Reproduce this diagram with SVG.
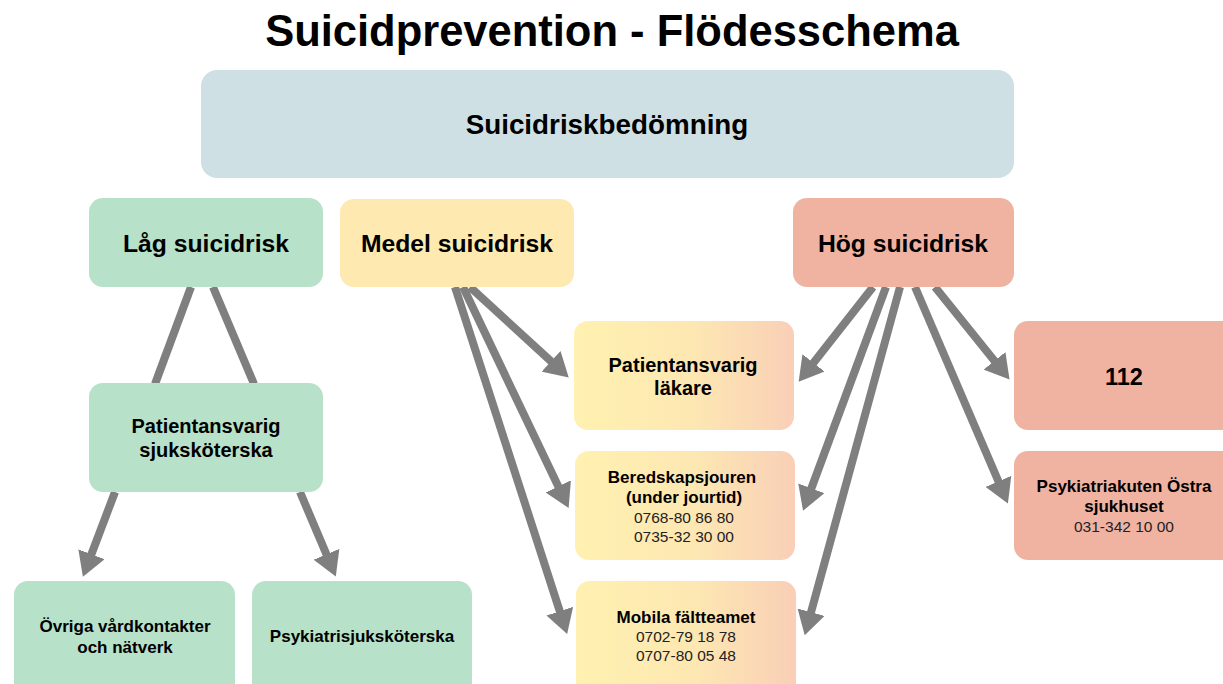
<svg xmlns="http://www.w3.org/2000/svg" width="1223" height="684" viewBox="0 0 1223 684">
<style>
text{font-family:"Liberation Sans",Arial,sans-serif;fill:#000;text-anchor:middle}
.b{font-weight:bold}
.ph{fill:#222}
.blue{fill:#CFE0E4}
.green{fill:#B7E1C8}
.yellow{fill:#FEE9B0}
.red{fill:#F0B3A2}
.grad{fill:url(#yp)}
.ln{stroke:#7F7F7F;stroke-width:8;fill:none}
.ar{stroke:#7F7F7F;stroke-width:8;fill:none;marker-end:url(#ah)}
</style>
<defs>
<linearGradient id="yp" x1="0" y1="0" x2="1" y2="0">
<stop offset="0" stop-color="#FFF1B0"/>
<stop offset="0.55" stop-color="#FDE7B2"/>
<stop offset="1" stop-color="#F9CFB7"/>
</linearGradient>
<marker id="ah" viewBox="0 0 12 14" refX="2" refY="7" markerWidth="3" markerHeight="3.5" orient="auto" markerUnits="strokeWidth">
<path d="M0,0 L12,7 L0,14 z" fill="#7F7F7F"/>
</marker>
</defs>
<rect width="1223" height="684" fill="#fff"/>
<text class="b" x="612" y="46" font-size="43.5">Suicidprevention - Flödesschema</text>

<g id="connectors">
<line class="ln" x1="191" y1="287" x2="155" y2="384"/>
<line class="ln" x1="213" y1="287" x2="254" y2="384"/>
<line class="ar" x1="115" y1="492" x2="90" y2="558"/>
<line class="ar" x1="300" y1="492" x2="328" y2="558"/>
<line class="ar" x1="470" y1="287" x2="554" y2="364"/>
<line class="ar" x1="463" y1="287" x2="560" y2="490"/>
<line class="ar" x1="455" y1="287" x2="561" y2="615"/>
<line class="ar" x1="873" y1="287" x2="811" y2="366"/>
<line class="ar" x1="886" y1="287" x2="810" y2="492"/>
<line class="ar" x1="900" y1="287" x2="810" y2="616"/>
<line class="ar" x1="935" y1="287" x2="997" y2="364"/>
<line class="ar" x1="915" y1="287" x2="1000" y2="485"/>
</g>

<g id="n-bedomning">
<rect class="blue" x="201" y="70" width="813" height="108" rx="16"/>
<text class="b" x="607" y="134" font-size="27.8">Suicidriskbedömning</text>
</g>
<g id="n-lag">
<rect class="green" x="89" y="198" width="234" height="89" rx="14"/>
<text class="b" x="206" y="252" font-size="24.7">Låg suicidrisk</text>
</g>
<g id="n-medel">
<rect class="yellow" x="340" y="199" width="234" height="88" rx="14"/>
<text class="b" x="457" y="252" font-size="24.7">Medel suicidrisk</text>
</g>
<g id="n-hog">
<rect class="red" x="793" y="198" width="221" height="89" rx="14"/>
<text class="b" x="903" y="252" font-size="24.7">Hög suicidrisk</text>
</g>
<g id="n-sjukskoterska">
<rect class="green" x="89" y="383" width="234" height="109" rx="14"/>
<text class="b" x="206" y="433" font-size="20">Patientansvarig</text>
<text class="b" x="206" y="457" font-size="20">sjuksköterska</text>
</g>
<g id="n-ovriga">
<rect class="green" x="14" y="581" width="221" height="118" rx="14"/>
<text class="b" x="125" y="632" font-size="17">Övriga vårdkontakter</text>
<text class="b" x="125" y="653" font-size="17">och nätverk</text>
</g>
<g id="n-psykiatrisjuk">
<rect class="green" x="252" y="581" width="220" height="118" rx="14"/>
<text class="b" x="362" y="642" font-size="17">Psykiatrisjuksköterska</text>
</g>
<g id="n-lakare">
<rect class="grad" x="574" y="321" width="220" height="109" rx="14"/>
<text class="b" x="683" y="372" font-size="20">Patientansvarig</text>
<text class="b" x="683" y="395" font-size="20">läkare</text>
</g>
<g id="n-beredskap">
<rect class="grad" x="575" y="451" width="220" height="109" rx="14"/>
<text class="b" x="682" y="483" font-size="17">Beredskapsjouren</text>
<text class="b" x="684" y="503" font-size="17">(under jourtid)</text>
<text class="ph" x="684" y="523" font-size="15.5">0768-80 86 80</text>
<text class="ph" x="684" y="542" font-size="15.5">0735-32 30 00</text>
</g>
<g id="n-mobila">
<rect class="grad" x="576" y="581" width="220" height="118" rx="14"/>
<text class="b" x="686" y="623" font-size="17">Mobila fältteamet</text>
<text class="ph" x="686" y="642" font-size="15.5">0702-79 18 78</text>
<text class="ph" x="686" y="661" font-size="15.5">0707-80 05 48</text>
</g>
<g id="n-112">
<rect class="red" x="1014" y="321" width="230" height="109" rx="14"/>
<text class="b" x="1124" y="385" font-size="23.5">112</text>
</g>
<g id="n-psykiatriakuten">
<rect class="red" x="1014" y="451" width="230" height="109" rx="14"/>
<text class="b" x="1124" y="492" font-size="17">Psykiatriakuten Östra</text>
<text class="b" x="1124" y="512" font-size="17">sjukhuset</text>
<text class="ph" x="1124" y="532" font-size="15.5">031-342 10 00</text>
</g>
</svg>
